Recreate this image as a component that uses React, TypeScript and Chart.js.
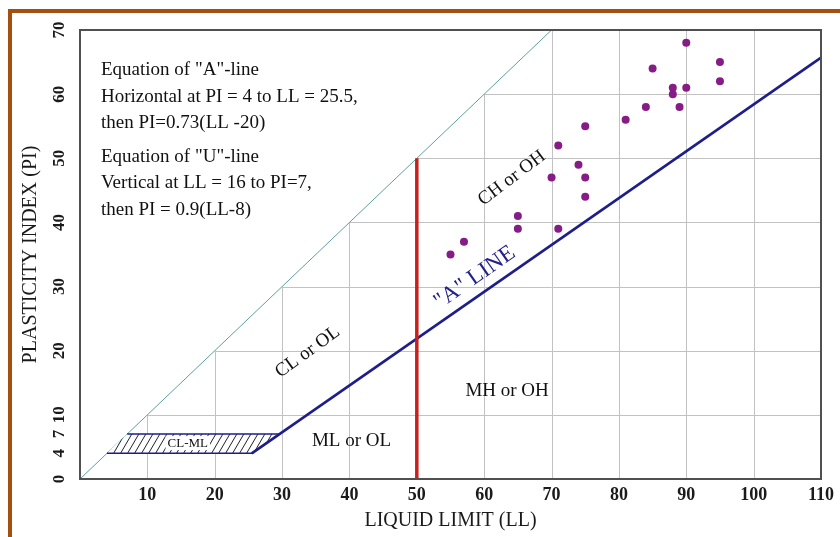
import { useEffect, useRef } from "react";
import { Chart, registerables } from "chart.js";
Chart.register(...registerables);

// ---- data ----
const soilLL = [90, 95, 85, 95, 88, 90, 88, 84, 89, 81, 75, 71, 74, 70, 75, 75, 65, 65, 71, 57, 55];
const soilPI = [68, 65, 64, 62, 61, 61, 60, 58, 58, 56, 55, 52, 49, 47, 47, 44, 41, 39, 39, 37, 35];

const diagLL = [0, 70];
const diagPI = [0, 70];
const aLineLL = [25.5, 110];
const aLinePI = [4, 65.7];
const hatchLL = [4, 25.5, 29.6, 7];
const hatchPI = [4, 4, 7, 7];
const redLL = [50, 50];
const redPI = [0, 50];

const xTickVals = [10, 20, 30, 40, 50, 60, 70, 80, 90, 100, 110];
const yTickVals = [0, 4, 7, 10, 20, 30, 40, 50, 60, 70];
const gridLL = [10, 20, 30, 40, 50, 60, 70, 80, 90, 100];
const gridPI = [10, 20, 30, 40, 50, 60];

const zoneText = ["CH or OH", "CL or OL", "MH or OH", "ML or OL", "CL-ML"];
const zoneLL = [64.1, 33.8, 63.4, 40.3, 16];
const zonePI = [46.9, 19.8, 13.7, 5.9, 5.6];
const zoneAngle = [-37, -36, 0, 0, 0];

const aLineLabel = '"A" LINE';
const aLineLabelLL = 58.6;
const aLineLabelPI = 31.4;

const aNotes = ['Equation of "A"-line', "Horizontal at PI = 4 to LL = 25.5,", "then PI=0.73(LL -20)"];
const uNotes = ['Equation of "U"-line', "Vertical at LL = 16 to PI=7,", "then PI = 0.9(LL-8)"];

const SERIF = "'Liberation Serif', 'Times New Roman', serif";

const pts = (xs: number[], ys: number[]) => xs.map((v, i) => ({ x: v, y: ys[i] }));

function makeHatch(): CanvasPattern | string {
  const c = document.createElement("canvas");
  const w = 7, h = 12;
  c.width = w; c.height = h;
  const g = c.getContext("2d");
  if (!g) return "rgba(0,0,0,0)";
  g.fillStyle = "#ffffff";
  g.fillRect(0, 0, w, h);
  g.strokeStyle = "#222";
  g.lineWidth = 1;
  for (const dx of [-w, 0, w]) {
    g.beginPath();
    g.moveTo(dx, h);
    g.lineTo(dx + w, 0);
    g.stroke();
  }
  const p = g.createPattern(c, "repeat");
  return p || "#fff";
}

const overlay = {
  id: "overlay",
  beforeDatasetsDraw(chart: any) {
    const { ctx, scales } = chart;
    const x = scales.x, y = scales.y;
    ctx.save();
    ctx.strokeStyle = "#c2c2c2";
    ctx.lineWidth = 1;
    for (const t of gridLL) {
      const px = Math.round(x.getPixelForValue(t)) + 0.5;
      ctx.beginPath();
      ctx.moveTo(px, y.getPixelForValue(0));
      ctx.lineTo(px, y.getPixelForValue(Math.min(t, 70)));
      ctx.stroke();
    }
    for (const t of gridPI) {
      const py = Math.round(y.getPixelForValue(t)) + 0.5;
      ctx.beginPath();
      ctx.moveTo(x.getPixelForValue(t), py);
      ctx.lineTo(x.getPixelForValue(110), py);
      ctx.stroke();
    }
    ctx.restore();
  },
  afterDatasetsDraw(chart: any) {
    const { ctx, chartArea, scales } = chart;
    const x = scales.x, y = scales.y;
    const { left, top, right, bottom } = chartArea;
    ctx.save();
    ctx.strokeStyle = "#505050";
    ctx.lineWidth = 2;
    ctx.strokeRect(left, top, right - left, bottom - top);

    // zone labels
    ctx.fillStyle = "#111";
    ctx.textAlign = "center";
    ctx.textBaseline = "middle";
    zoneText.forEach((t, i) => {
      ctx.save();
      ctx.translate(x.getPixelForValue(zoneLL[i]), y.getPixelForValue(zonePI[i]));
      ctx.rotate((zoneAngle[i] * Math.PI) / 180);
      ctx.font = (t === "CL-ML" ? "13px " : "19px ") + SERIF;
      if (t === "CL-ML") {
        const w = ctx.measureText(t).width;
        ctx.fillStyle = "#fff";
        ctx.fillRect(-w / 2 - 2, -7, w + 4, 14);
        ctx.fillStyle = "#111";
      }
      ctx.fillText(t, 0, 0);
      ctx.restore();
    });

    // A line label
    ctx.save();
    ctx.translate(x.getPixelForValue(aLineLabelLL), y.getPixelForValue(aLineLabelPI));
    ctx.rotate((-35 * Math.PI) / 180);
    ctx.font = "23px " + SERIF;
    ctx.fillStyle = "#22228c";
    ctx.fillText(aLineLabel, 0, 0);
    ctx.restore();

    // equation notes
    ctx.font = "19px " + SERIF;
    ctx.fillStyle = "#111";
    ctx.textAlign = "left";
    ctx.textBaseline = "middle";
    aNotes.forEach((t, i) => ctx.fillText(t, left + 21, top + 40 + i * 26.7));
    uNotes.forEach((t, i) => ctx.fillText(t, left + 21, top + 126.7 + i * 26.7));
    ctx.restore();
  },
};

export default function App() {
  const ref = useRef<HTMLCanvasElement | null>(null);
  useEffect(() => {
    if (!ref.current) return;
    Chart.defaults.font.family = SERIF;
    const hatch = makeHatch();
    const chart = new Chart(ref.current, {
      type: "scatter",
      data: {
        datasets: [
          {
            label: "Soils",
            data: pts(soilLL, soilPI),
            backgroundColor: "#861c86",
            borderColor: "#861c86",
            pointRadius: 4,
            pointBorderWidth: 0,
          },
          {
            label: "LL = 50",
            data: pts(redLL, redPI),
            showLine: true,
            borderColor: "#c8201c",
            borderWidth: 3.5,
            pointRadius: 0,
          },
          {
            label: "A-line",
            data: pts(aLineLL, aLinePI),
            showLine: true,
            borderColor: "#1e1e8a",
            borderWidth: 2.6,
            pointRadius: 0,
          },
          {
            label: "CL-ML",
            data: pts(hatchLL, hatchPI),
            showLine: true,
            borderColor: "#1e1e8a",
            borderWidth: 1.5,
            backgroundColor: hatch as any,
            fill: "shape",
            pointRadius: 0,
          } as any,
          {
            label: "U",
            data: pts(diagLL, diagPI),
            showLine: true,
            borderColor: "#5f9fa0",
            borderWidth: 1,
            pointRadius: 0,
          },
        ],
      },
      options: {
        responsive: false,
        animation: false,
        devicePixelRatio: 1,
        layout: { padding: { top: 30, right: 17, left: 0, bottom: 0 } },
        plugins: { legend: { display: false }, tooltip: { enabled: false } },
        scales: {
          x: {
            type: "linear",
            min: 0,
            max: 110,
            afterBuildTicks: (s: any) => {
              s.ticks = xTickVals.map((v) => ({ value: v }));
            },
            afterFit: (s: any) => {
              s.height = 58;
            },
            grid: { display: false, drawTicks: false },
            border: { display: false },
            ticks: {
              autoSkip: false,
              maxRotation: 0,
              padding: 6,
              color: "#1a1a1a",
              font: { size: 18, weight: "bold", family: SERIF },
            },
            title: {
              display: true,
              text: "LIQUID LIMIT (LL)",
              color: "#1a1a1a",
              font: { size: 20, family: SERIF },
              padding: { top: 0, bottom: 4 },
            },
          },
          y: {
            type: "linear",
            min: 0,
            max: 70,
            afterBuildTicks: (s: any) => {
              s.ticks = yTickVals.map((v) => ({ value: v }));
            },
            afterFit: (s: any) => {
              s.width = 80;
            },
            grid: { display: false, drawTicks: false },
            border: { display: false },
            ticks: {
              autoSkip: false,
              minRotation: 90,
              maxRotation: 90,
              crossAlign: "center",
              padding: 12,
              color: "#1a1a1a",
              font: { size: 17, weight: "bold", family: SERIF },
            },
            title: {
              display: true,
              text: "PLASTICITY INDEX (PI)",
              color: "#1a1a1a",
              font: { size: 20, family: SERIF },
              padding: { top: 19, bottom: 0 },
            },
          },
        },
      },
      plugins: [overlay],
    });
    return () => chart.destroy();
  }, []);

  return (
    <div style={{ position: "fixed", left: 0, top: 0, width: 840, height: 537, background: "#fff", overflow: "hidden" }}>
      <div
        style={{
          position: "absolute",
          left: 8,
          top: 9,
          width: 850,
          height: 540,
          borderTop: "4px solid #a3500f",
          borderLeft: "4px solid #a3500f",
        }}
      />
      <canvas ref={ref} width={840} height={537} style={{ position: "absolute", left: 0, top: 0 }} />
    </div>
  );
}
